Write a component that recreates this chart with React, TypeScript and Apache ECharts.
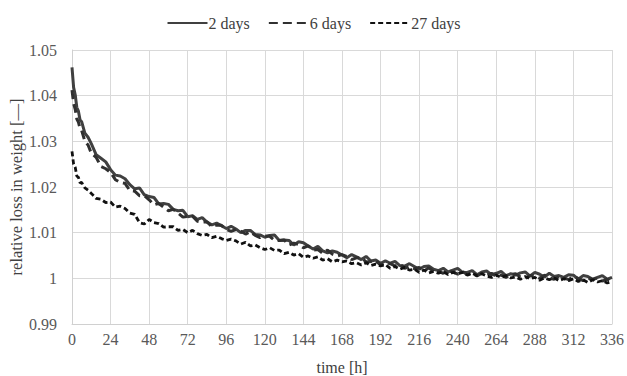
import React, { useEffect, useRef } from "react";
import * as echarts from "echarts";

const times = [
  0, 1, 2, 3, 4, 5, 6, 8, 10,
  12, 15, 18, 21, 24, 27, 30, 33, 36, 39, 42, 45, 48, 51, 54, 57, 60, 63, 66, 69,
  72, 75, 78, 81, 84, 87, 90, 93, 96, 99, 102, 105, 108, 111, 114, 117, 120, 123, 126, 129,
  132, 135, 138, 141, 144, 147, 150, 153, 156, 159, 162, 165, 168, 171, 174, 177, 180, 183, 186, 189,
  192, 195, 198, 201, 204, 207, 210, 213, 216, 219, 222, 225, 228, 231, 234, 237, 240, 243, 246, 249,
  252, 255, 258, 261, 264, 267, 270, 273, 276, 279, 282, 285, 288, 291, 294, 297, 300, 303, 306, 309,
  312, 315, 318, 321, 324, 327, 330, 333, 336,
];

const days2 = [
  1.0462, 1.0418, 1.0402, 1.0374, 1.0366, 1.0347, 1.0343, 1.0318, 1.0309,
  1.0295, 1.0271, 1.0263, 1.0255, 1.0238, 1.0226, 1.0224, 1.0218, 1.0205, 1.0196, 1.0198, 1.0183, 1.0179, 1.0177, 1.0163, 1.0164, 1.0162, 1.0151, 1.0148, 1.0149,
  1.0135, 1.0137, 1.0129, 1.0133, 1.0123, 1.0117, 1.0121, 1.0115, 1.0109, 1.0114, 1.0108, 1.0100, 1.0105, 1.0105, 1.0096, 1.0095, 1.0090, 1.0094, 1.0095, 1.0083,
  1.0084, 1.0083, 1.0073, 1.0080, 1.0078, 1.0071, 1.0064, 1.0070, 1.0060, 1.0056, 1.0060, 1.0057, 1.0051, 1.0045, 1.0052, 1.0047, 1.0041, 1.0048, 1.0038, 1.0040,
  1.0033, 1.0038, 1.0033, 1.0037, 1.0028, 1.0027, 1.0032, 1.0026, 1.0020, 1.0026, 1.0027, 1.0020, 1.0017, 1.0022, 1.0014, 1.0018, 1.0022, 1.0013, 1.0013, 1.0017,
  1.0008, 1.0014, 1.0016, 1.0008, 1.0011, 1.0015, 1.0006, 1.0010, 1.0007, 1.0012, 1.0014, 1.0005, 1.0013, 1.0009, 1.0003, 1.0011, 1.0004, 1.0006, 1.0002, 1.0008,
  1.0007, 0.9998, 1.0006, 1.0004, 0.9998, 1.0002, 1.0006, 0.9998, 1.0002,
];

const days6 = [
  1.0412, 1.0383, 1.0370, 1.0349, 1.0342, 1.0328, 1.0324, 1.0300, 1.0292,
  1.0274, 1.0265, 1.0245, 1.0240, 1.0232, 1.0216, 1.0210, 1.0208, 1.0192, 1.0191, 1.0181, 1.0181, 1.0172, 1.0161, 1.0164, 1.0156, 1.0148, 1.0151, 1.0143, 1.0134,
  1.0136, 1.0136, 1.0125, 1.0123, 1.0124, 1.0113, 1.0117, 1.0116, 1.0107, 1.0103, 1.0107, 1.0103, 1.0097, 1.0102, 1.0094, 1.0089, 1.0093, 1.0092, 1.0083, 1.0083,
  1.0084, 1.0073, 1.0077, 1.0074, 1.0067, 1.0071, 1.0062, 1.0063, 1.0055, 1.0062, 1.0053, 1.0049, 1.0052, 1.0048, 1.0041, 1.0045, 1.0045, 1.0036, 1.0037, 1.0039,
  1.0029, 1.0034, 1.0032, 1.0027, 1.0031, 1.0022, 1.0026, 1.0021, 1.0024, 1.0016, 1.0023, 1.0015, 1.0016, 1.0011, 1.0017, 1.0014, 1.0009, 1.0015, 1.0008, 1.0012,
  1.0005, 1.0011, 1.0007, 1.0011, 1.0004, 1.0007, 1.0002, 1.0008, 1.0010, 1.0003, 1.0000, 1.0006, 1.0005, 1.0000, 1.0007, 1.0001, 0.9998, 1.0004, 1.0001, 0.9997,
  1.0004, 1.0000, 0.9995, 1.0001, 0.9997, 1.0001, 0.9994, 0.9998, 0.9993,
];

const days27 = [
  1.0278, 1.0250, 1.0243, 1.0224, 1.0221, 1.0209, 1.0210, 1.0198, 1.0193,
  1.0186, 1.0175, 1.0173, 1.0166, 1.0167, 1.0156, 1.0158, 1.0153, 1.0143, 1.0140, 1.0122, 1.0119, 1.0129, 1.0122, 1.0120, 1.0112, 1.0113, 1.0113, 1.0105, 1.0107,
  1.0100, 1.0105, 1.0098, 1.0094, 1.0096, 1.0089, 1.0092, 1.0087, 1.0083, 1.0086, 1.0082, 1.0075, 1.0079, 1.0071, 1.0073, 1.0067, 1.0063, 1.0067, 1.0061, 1.0062,
  1.0054, 1.0057, 1.0051, 1.0054, 1.0046, 1.0049, 1.0044, 1.0047, 1.0040, 1.0043, 1.0036, 1.0040, 1.0036, 1.0038, 1.0032, 1.0034, 1.0029, 1.0034, 1.0028, 1.0031,
  1.0027, 1.0030, 1.0022, 1.0026, 1.0020, 1.0024, 1.0018, 1.0020, 1.0013, 1.0018, 1.0012, 1.0015, 1.0011, 1.0015, 1.0008, 1.0013, 1.0010, 1.0013, 1.0007, 1.0011,
  1.0006, 1.0010, 1.0005, 1.0002, 1.0007, 1.0002, 1.0006, 1.0001, 1.0003, 0.9998, 1.0004, 0.9999, 1.0002, 0.9996, 1.0001, 0.9997, 1.0001, 0.9995, 0.9999, 0.9995,
  0.9999, 0.9993, 0.9997, 0.9991, 0.9997, 0.9992, 0.9995, 0.9990, 0.9993,
];

const seriesNames = ["2 days", "6 days", "27 days"];
const xTicks = { min: 0, max: 336, interval: 24 };
const yTicks = { min: 0.99, max: 1.05, interval: 0.01 };

const FONT = "Liberation Serif";

function pairs(values: number[]) {
  return times.map((t, i) => [t, values[i]]);
}

export default function App() {
  const ref = useRef<HTMLDivElement>(null);
  useEffect(() => {
    if (!ref.current) return;
    const chart = echarts.init(ref.current, undefined, { renderer: "svg" });
    const textStyle = { fontFamily: FONT, fontSize: 16, color: "#595959" };
    chart.setOption({
      animation: false,
      textStyle: { fontFamily: FONT },
      legend: {
        top: 10,
        left: "center",
        itemWidth: 40,
        itemHeight: 16,
        itemGap: 18,
        itemStyle: { opacity: 0 },
        textStyle: { ...textStyle, color: "#404040", padding: [0, 0, 0, -4] },
        data: seriesNames,
      },
      grid: { left: 72, right: 15, top: 50, bottom: 52, containLabel: false, outerBoundsMode: "none" },
      xAxis: {
        type: "value",
        min: xTicks.min,
        max: xTicks.max,
        interval: xTicks.interval,
        name: "time [h]",
        nameLocation: "middle",
        nameGap: 35,
        nameMoveOverlap: false,
        nameTextStyle: { ...textStyle, color: "#404040" },
        axisLine: { show: true, lineStyle: { color: "#d0d0d0", width: 1 } },
        axisTick: { show: false },
        axisLabel: { ...textStyle, margin: 7 },
        splitLine: { show: true, lineStyle: { color: "#d9d9d9", width: 1 } },
      },
      yAxis: {
        type: "value",
        min: yTicks.min,
        max: yTicks.max,
        interval: yTicks.interval,
        name: "relative loss in weight [—]",
        nameLocation: "middle",
        nameGap: 47,
        nameMoveOverlap: false,
        nameRotate: 90,
        nameTextStyle: { ...textStyle, fontSize: 16.5, color: "#404040" },
        axisLine: { show: true, lineStyle: { color: "#d0d0d0", width: 1 } },
        axisTick: { show: false },
        axisLabel: {
          ...textStyle,
          margin: 15,
          formatter: (v: number) => String(parseFloat(v.toFixed(2))),
        },
        splitLine: { show: true, lineStyle: { color: "#d9d9d9", width: 1 } },
      },
      series: [
        {
          name: seriesNames[0],
          type: "line",
          data: pairs(days2),
          symbol: "none",
          z: 3,
          lineStyle: { color: "#404040", width: 3, type: "solid" },
          itemStyle: { color: "#404040" },
        },
        {
          name: seriesNames[1],
          type: "line",
          data: pairs(days6),
          symbol: "none",
          z: 4,
          lineStyle: { color: "#303030", width: 3, type: [9, 5] },
          itemStyle: { color: "#303030" },
        },
        {
          name: seriesNames[2],
          type: "line",
          data: pairs(days27),
          symbol: "none",
          z: 5,
          lineStyle: { color: "#111111", width: 2.8, type: [5, 3] },
          itemStyle: { color: "#111111" },
        },
      ],
    });
    return () => chart.dispose();
  }, []);
  return <div ref={ref} style={{ width: 627, height: 376, position: "absolute", left: 0, top: 0 }} />;
}
